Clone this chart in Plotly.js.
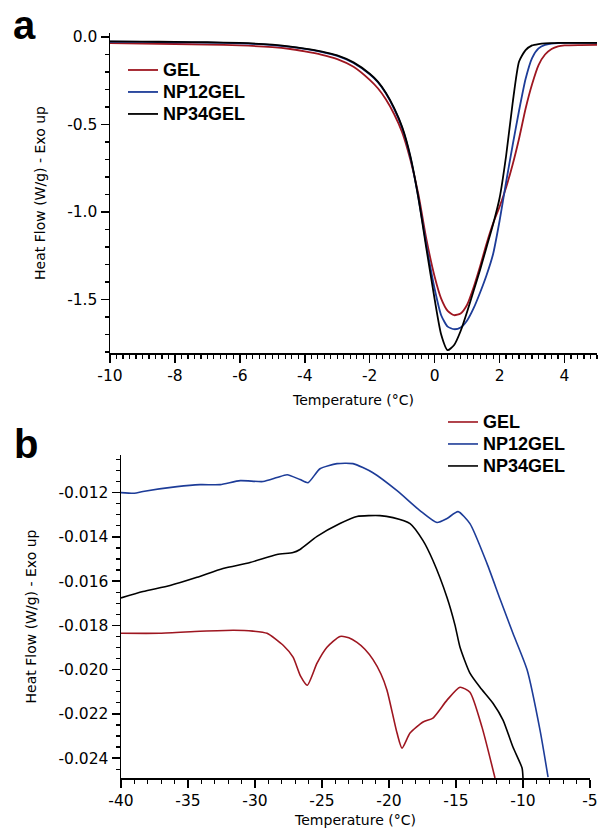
<!DOCTYPE html>
<html>
<head>
<meta charset="utf-8">
<script src="https://cdn.plot.ly/plotly-3.0.1.min.js"></script>
<style>
html,body{margin:0;padding:0;background:#fff;}
#chart{width:600px;height:832px;}
</style>
</head>
<body>
<div id="chart"></div>
<script>
// ---------- Panel a data ----------
const tempA = [-10, -9, -8, -7, -6, -5, -4.5, -4, -3.5, -3, -2.5, -2, -1.75, -1.5, -1.25, -1, -0.75, -0.5, -0.25, 0, 0.2, 0.4, 0.6, 0.8, 1.0, 1.2, 1.4, 1.6, 1.8, 2.0, 2.2, 2.4, 2.6, 2.8, 3.0, 3.2, 3.4, 3.6, 3.8, 4.0, 4.5, 5.0];
const gelA = [-0.035, -0.037, -0.040, -0.043, -0.048, -0.058, -0.067, -0.082, -0.100, -0.126, -0.170, -0.245, -0.293, -0.357, -0.440, -0.545, -0.700, -0.900, -1.160, -1.370, -1.495, -1.565, -1.590, -1.580, -1.530, -1.430, -1.310, -1.180, -1.065, -0.970, -0.860, -0.730, -0.580, -0.410, -0.270, -0.160, -0.100, -0.068, -0.053, -0.048, -0.046, -0.045];
const np12A = [-0.027, -0.028, -0.030, -0.032, -0.036, -0.046, -0.055, -0.068, -0.085, -0.108, -0.148, -0.213, -0.258, -0.323, -0.410, -0.520, -0.685, -0.920, -1.195, -1.440, -1.590, -1.655, -1.670, -1.660, -1.620, -1.550, -1.460, -1.360, -1.240, -1.050, -0.830, -0.620, -0.420, -0.240, -0.120, -0.065, -0.045, -0.038, -0.035, -0.034, -0.034, -0.034];
const np34A = [-0.025, -0.026, -0.028, -0.030, -0.034, -0.044, -0.053, -0.066, -0.082, -0.105, -0.145, -0.210, -0.255, -0.320, -0.405, -0.515, -0.680, -0.920, -1.215, -1.500, -1.700, -1.790, -1.760, -1.680, -1.570, -1.450, -1.330, -1.200, -1.070, -0.920, -0.680, -0.380, -0.140, -0.075, -0.048, -0.040, -0.036, -0.035, -0.034, -0.034, -0.033, -0.033];

// ---------- Panel b data ----------
const gelTempB = [-40, -37.1, -34.1, -31.6, -30.15, -29.1, -27.9, -27.16, -26.6, -26.1, -25.37, -24.63, -23.66, -23.0, -22.39, -21.8, -21.19, -20.6, -20.15, -19.4, -19.03, -18.43, -17.46, -16.72, -15.67, -14.7, -13.96, -13.06, -12.09];
const gelB = [-0.01836, -0.01836, -0.01827, -0.01822, -0.01826, -0.01836, -0.0189, -0.01944, -0.0203, -0.02071, -0.01971, -0.01899, -0.0185, -0.01856, -0.01877, -0.01908, -0.01955, -0.0202, -0.02093, -0.02287, -0.02355, -0.02287, -0.02237, -0.02219, -0.02138, -0.0208, -0.02102, -0.0226, -0.0249];
const np12TempB = [-40, -39, -38.36, -35.82, -34.1, -32.6, -31.1, -29.4, -28.36, -27.6, -26.64, -26.04, -25.15, -23.88, -22.69, -21.2, -19.4, -17.69, -16.42, -15.67, -14.85, -13.96, -12.69, -11.72, -10.75, -9.70, -8.73, -8.13];
const np12B = [-0.0120, -0.01203, -0.01195, -0.01173, -0.01164, -0.01164, -0.01146, -0.0115, -0.01132, -0.01119, -0.01141, -0.01155, -0.01092, -0.01069, -0.01069, -0.0111, -0.01191, -0.01281, -0.01335, -0.01317, -0.01286, -0.0134, -0.0152, -0.0168, -0.01836, -0.0200, -0.02274, -0.02486];
const np34TempB = [-40, -38.36, -36.34, -34.33, -32.39, -30.37, -28.36, -27.16, -26.64, -25.37, -23.66, -22.39, -20.67, -19.70, -18.43, -17.46, -16.72, -15.67, -15.07, -14.70, -13.96, -13.21, -12.24, -11.49, -10.75, -10.07, -10.0];
const np34B = [-0.01676, -0.01647, -0.0162, -0.01583, -0.01543, -0.01516, -0.0148, -0.01471, -0.01457, -0.01398, -0.0134, -0.01308, -0.01304, -0.01313, -0.0134, -0.01417, -0.01507, -0.01674, -0.01800, -0.01899, -0.02016, -0.0208, -0.02152, -0.02228, -0.0235, -0.02445, -0.0249];

// ---------- Labels / ticks ----------
const seriesNames = ['GEL', 'NP12GEL', 'NP34GEL'];
const tickValsXA = [-10, -8, -6, -4, -2, 0, 2, 4];
const tickTextXA = ['-10', '-8', '-6', '-4', '-2', '0', '2', '4'];
const tickValsYA = [0, -0.5, -1.0, -1.5];
const tickTextYA = ['0.0', '-0.5', '-1.0', '-1.5'];
const tickValsXB = [-40, -35, -30, -25, -20, -15, -10, -5];
const tickTextXB = ['-40', '-35', '-30', '-25', '-20', '-15', '-10', '-5'];
const tickValsYB = [-0.012, -0.014, -0.016, -0.018, -0.020, -0.022, -0.024];
const tickTextYB = ['-0.012', '-0.014', '-0.016', '-0.018', '-0.020', '-0.022', '-0.024'];
const xTitle = 'Temperature (°C)';
const yTitle = 'Heat Flow (W/g) - Exo up';

const RED = '#9e1620', BLUE = '#1d3c98', BLACK = '#000000';
const W = 600, H = 832;
const px = v => v / W;
const py = v => (H - v) / H;
const legName = s => '<span style="font-size:18px">' + s + '</span>';

const traces = [
  {x: tempA, y: gelA, name: legName(seriesNames[0]), line: {color: RED, width: 1.8}},
  {x: tempA, y: np12A, name: legName(seriesNames[1]), line: {color: BLUE, width: 1.8}},
  {x: tempA, y: np34A, name: legName(seriesNames[2]), line: {color: BLACK, width: 1.8}},
  {x: gelTempB, y: gelB, name: legName(seriesNames[0]), xaxis: 'x2', yaxis: 'y2', legend: 'legend2', line: {color: RED, width: 1.6}},
  {x: np12TempB, y: np12B, name: legName(seriesNames[1]), xaxis: 'x2', yaxis: 'y2', legend: 'legend2', line: {color: BLUE, width: 1.6}},
  {x: np34TempB, y: np34B, name: legName(seriesNames[2]), xaxis: 'x2', yaxis: 'y2', legend: 'legend2', line: {color: BLACK, width: 1.6}}
].map(t => Object.assign({type: 'scatter', mode: 'lines'}, t, {line: Object.assign({shape: 'spline', smoothing: 0.6}, t.line)}));

const tickFont = {family: 'DejaVu Sans', size: 15.5, color: '#000'};
const titleFont = {family: 'DejaVu Sans', size: 14, color: '#000'};
const legendFont = {family: 'Liberation Sans', size: 14.6, color: '#000', weight: 'bold'};

function axisCommon() {
  return {
    showgrid: false, zeroline: false, showline: true, linecolor: '#000', linewidth: 1.5,
    ticks: 'outside', ticklen: 8, tickwidth: 1.5, tickcolor: '#000', tickfont: tickFont,
    tickmode: 'array', mirror: false, fixedrange: true
  };
}

const layout = {
  width: W, height: H,
  margin: {l: 0, r: 0, t: 0, b: 0},
  paper_bgcolor: '#fff', plot_bgcolor: '#fff',
  showlegend: true,
  xaxis: Object.assign(axisCommon(), {
    domain: [px(110), px(597)], range: [-10, 5], anchor: 'y',
    tickvals: tickValsXA, ticktext: tickTextXA,
    minor: {tickmode: 'linear', tick0: 0, dtick: 0.2, ticks: 'outside', ticklen: 4, tickwidth: 1.2, tickcolor: '#000'},
    title: {text: xTitle, font: titleFont, standoff: 11}
  }),
  yaxis: Object.assign(axisCommon(), {
    domain: [py(353), py(33)], range: [-1.806, 0.023], anchor: 'x',
    tickvals: tickValsYA, ticktext: tickTextYA,
    minor: {tickmode: 'linear', tick0: 0, dtick: 0.1, ticks: 'outside', ticklen: 4, tickwidth: 1.2, tickcolor: '#000'},
    title: {text: yTitle, font: titleFont, standoff: 18}
  }),
  xaxis2: Object.assign(axisCommon(), {
    domain: [px(121), px(590)], range: [-40, -5], anchor: 'y2',
    tickvals: tickValsXB, ticktext: tickTextXB,
    minor: {tickmode: 'linear', tick0: 0, dtick: 1, ticks: 'outside', ticklen: 4, tickwidth: 1.2, tickcolor: '#000'},
    title: {text: xTitle, font: titleFont, standoff: 6}
  }),
  yaxis2: Object.assign(axisCommon(), {
    domain: [py(778), py(455)], range: [-0.0249, -0.0103], anchor: 'x2',
    tickvals: tickValsYB, ticktext: tickTextYB,
    minor: {tickmode: 'linear', tick0: 0, dtick: 0.0005, ticks: 'outside', ticklen: 4, tickwidth: 1.2, tickcolor: '#000'},
    title: {text: yTitle, font: titleFont, standoff: 18}
  }),
  legend: {
    x: px(123), y: py(54), xanchor: 'left', yanchor: 'top',
    bgcolor: 'rgba(0,0,0,0)', borderwidth: 0, font: legendFont, tracegroupgap: 0
  },
  legend2: {
    x: px(443), y: py(406), xanchor: 'left', yanchor: 'top',
    bgcolor: 'rgba(0,0,0,0)', borderwidth: 0, font: legendFont, tracegroupgap: 0
  },
  annotations: [
    {text: 'a', xref: 'paper', yref: 'paper', x: px(24), y: py(25), xanchor: 'center', yanchor: 'middle', showarrow: false,
     font: {family: 'Liberation Sans', size: 40, color: '#000', weight: 'bold'}},
    {text: 'b', xref: 'paper', yref: 'paper', x: px(26), y: py(444), xanchor: 'center', yanchor: 'middle', showarrow: false,
     font: {family: 'Liberation Sans', size: 40, color: '#000', weight: 'bold'}}
  ]
};

Plotly.newPlot('chart', traces, layout, {staticPlot: true, displayModeBar: false});
</script>
</body>
</html>
